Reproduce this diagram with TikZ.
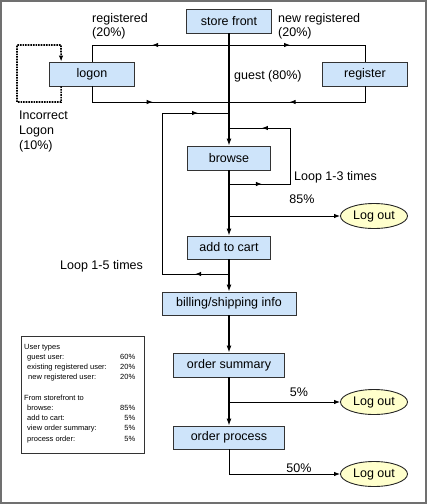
\documentclass[tikz,border=0pt]{standalone}
\usepackage{fontspec}
\setmainfont{Liberation Sans}
\usetikzlibrary{arrows.meta,shapes.geometric,decorations.markings}
\definecolor{boxblue}{RGB}{206,228,250}
\definecolor{outyellow}{RGB}{255,255,204}
\definecolor{framegray}{RGB}{112,112,112}
\newcommand{\boxh}{24pt}
\newcommand{\mainw}{1.8pt}
\tikzset{
    page/.style = {draw=black!80, fill=boxblue, line width=0.8pt, minimum height=\boxh, inner sep=0pt},
    logout/.style = {ellipse, draw=black!85, fill=outyellow, line width=0.9pt, minimum width=67pt, minimum height=25pt, inner sep=0pt},
    flow/.style = {line width=\mainw, -{Latex[length=7pt,width=5pt]}},
    branch/.style = {line width=0.9pt},
    midtip/.style = {postaction={decorate, decoration={markings, mark=at position #1 with {\arrow{Latex[length=6pt,width=4.5pt]}}}}},
    lbl/.style = {align=left, inner sep=0pt, anchor=west}
}

\begin{document}
\begin{tikzpicture}[x=1pt, y=-1pt, font=\fontsize{12.5}{14}\selectfont]
        \useasboundingbox (0,0) rectangle (427,504);
        \draw[framegray, line width=2pt] (1,1) rectangle (426,503);

        % pages
        \node[page, minimum width=85pt] (store) at (229,21) {store front};
        \node[page, minimum width=85pt] (logon) at (92,74) {logon};
        \node[page, minimum width=85pt] (register) at (365,74) {register};
        \node[page, minimum width=83pt] (browse) at (229,158) {browse};
        \node[page, minimum width=83pt, minimum height=23pt] (cart) at (229,247.5) {add to cart};
        \node[page, minimum width=134pt, minimum height=23pt] (billing) at (229,303.5) {billing/shipping info};
        \node[page, minimum width=111pt] (summary) at (229,365) {order summary};
        \node[page, minimum width=111pt, minimum height=23pt] (process) at (229,437.5) {order process};
        \node[logout] (out1) at (374,216) {Log out};
        \node[logout] (out2) at (374,402) {Log out};
        \node[logout] (out3) at (374,474) {Log out};

        % junctions on the main line
        \coordinate (regtop) at (229,45);
        \coordinate (regbot) at (229,102);
        \coordinate (loop5in) at (229,113);
        \coordinate (loop3in) at (229,128);
        \coordinate (loop3out) at (229,184);
        \coordinate (exit1) at (229,216);
        \coordinate (loop5out) at (229,274);
        \coordinate (exit2) at (229,402);
        \coordinate (retry) at (17,102);

        \draw[flow] (store) -- (browse);
        \draw[flow] (browse) -- (cart);
        \draw[flow] (cart) -- (billing);
        \draw[flow] (billing) -- (summary);
        \draw[flow] (summary) -- (process);

        \draw[branch, midtip=0.5] (regtop) -| (logon.north);
        \draw[branch, midtip=0.4] (regtop) -| (register.north);
        \draw[branch, midtip=0.5] (logon.south) |- (regbot);
        \draw[branch, midtip=0.6] (register.south) |- (regbot);

        \draw[densely dotted, line width=1.6pt, -{Latex[length=6pt,width=4.5pt]}]
            ([xshift=12pt]logon.south west) |- (retry) |- (61,45) -- ([xshift=12pt]logon.north west);

        \draw[branch, midtip=0.115, midtip=0.895] (loop5out) -- (162,274) -- (162,113) -- (loop5in);
        \draw[branch, midtip=0.185, midtip=0.815] (loop3out) -- (290,184) -- (290,128) -- (loop3in);

        \draw[branch, -{Latex[length=6pt,width=4.5pt]}] (exit1) -- (out1);
        \draw[branch, -{Latex[length=6pt,width=4.5pt]}] (exit2) -- (out2);
        \draw[branch, -{Latex[length=6pt,width=4.5pt]}] (process) |- (out3);

        % labels
        \node[lbl] (reglbl) at (92,26) {registered\\(20\%)};
        \node[lbl] (newlbl) at (278,26) {new registered\\(20\%)};
        \node[lbl] (guestlbl) at (234,76) {guest (80\%)};
        \node[lbl, font=\fontsize{12.5}{15}\selectfont] (badlbl) at (19,131) {Incorrect\\Logon\\(10\%)};
        \node[lbl] (loop3lbl) at (294,177) {Loop 1-3 times};
        \node[lbl] (loop5lbl) at (60,266) {Loop 1-5 times};
        \node (p85) at (302,199) {85\%};
        \node (p5) at (299,392) {5\%};
        \node (p50) at (299,468) {50\%};

        % legend
        \node[draw=black!80, line width=0.8pt, minimum width=123pt, minimum height=117pt, anchor=north west, inner sep=0pt] (legend) at (21,336) {};
        \node[anchor=north west, inner sep=0pt, font=\fontsize{7.5}{10.2}\selectfont] (legendtext) at (24,342) {%
            \begin{tabular*}{111pt}{@{}l@{\extracolsep{\fill}}r@{}}
                User types & \\
                \hspace{3pt}guest user: & 60\% \\
                \hspace{3pt}existing registered user: & 20\% \\
                \hspace{4pt}new registered user: & 20\% \\
                & \\
                From storefront to & \\
                \hspace{3pt}browse: & 85\% \\
                \hspace{3pt}add to cart: & 5\% \\
                \hspace{3pt}view order summary: & 5\% \\
                \hspace{3pt}process order: & 5\% \\
            \end{tabular*}};
\end{tikzpicture}
\end{document}
